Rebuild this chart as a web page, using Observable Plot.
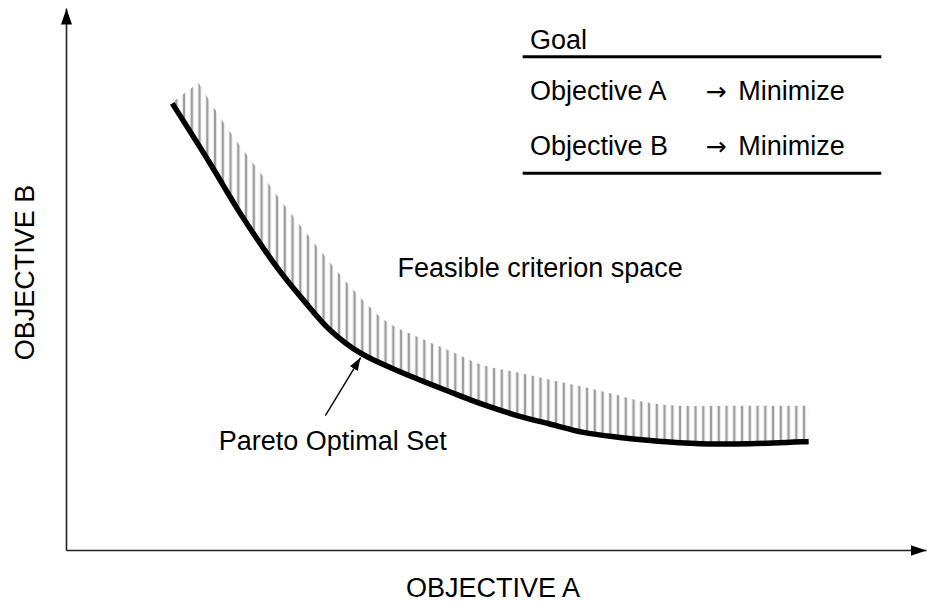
<!DOCTYPE html>
<html>
<head>
<meta charset="utf-8">
<script src="https://cdn.jsdelivr.net/npm/d3@7"></script>
<script src="https://cdn.jsdelivr.net/npm/@observablehq/plot@0.6"></script>
<style>
  html, body { margin: 0; padding: 0; background: #fff; }
</style>
</head>
<body>
<div id="chart"></div>
<script>
// Pareto front (Objective A vs Objective B), conceptual units 0–100
const paretoA = [12.3, 16.7, 20.2, 24.5, 27.6, 30.7, 34.2, 39.2, 44.7, 48.5, 52.4, 56.3, 60.1, 64.1, 67.9, 73.7, 79.5, 86.3];
const paretoB = [82.5, 71.4, 62.2, 52.2, 46.1, 40.6, 36.4, 32.7, 29.2, 26.9, 24.9, 23.3, 21.8, 20.9, 20.3, 19.7, 19.7, 20.1];

// Upper edge of the hatched feasible band
const bandA = [15.4, 18.7, 22.6, 26.0, 29.5, 33.4, 37.3, 41.2, 45.0, 48.5, 52.4, 56.3, 60.1, 64.1, 67.9, 71.4, 78.4, 86.5];
const bandB = [86.2, 78.0, 69.6, 62.4, 55.4, 48.0, 42.1, 39.1, 36.5, 34.1, 32.8, 31.4, 30.1, 28.6, 27.1, 26.6, 26.6, 26.6];

// Goal table
const tableHeader = ["Goal"];
const objectives = ["Objective A", "Objective B"];
const goalArrows = ["→", "→"];
const goals = ["Minimize", "Minimize"];

// Labels
const axisLabelA = ["OBJECTIVE A"];
const axisLabelB = ["OBJECTIVE B"];
const regionLabel = ["Feasible criterion space"];
const frontLabel = ["Pareto Optimal Set"];

// ---- layout (not data) ----
const rowY = [83.2, 72.9];
const font = "'Liberation Sans', Arial, Helvetica, sans-serif";
const fs = 27;

const idx = d3.range(paretoA.length);
const curve = idx.map(i => ({a: paretoA[i], b: paretoB[i]}));

const plot = Plot.plot({
  width: 927,
  height: 604,
  marginLeft: 66,
  marginRight: 1,
  marginTop: 8,
  marginBottom: 54,
  x: {domain: [0, 100], axis: null},
  y: {domain: [0, 100], axis: null},
  style: {fontFamily: font, background: "#fff", color: "#000", overflow: "visible"},
  marks: [
    // hatched feasible band
    Plot.area(idx, {
      x1: i => paretoA[i], y1: i => paretoB[i],
      x2: i => bandA[i], y2: i => bandB[i],
      fill: "url(#hatch)", curve: "catmull-rom"
    }),
    // Pareto front
    Plot.line(curve, {x: "a", y: "b", stroke: "#000", strokeWidth: 5.5, curve: "catmull-rom", strokeLinecap: "butt"}),
    // axes with arrowheads
    Plot.link([{x1: 0, y1: 0, x2: 100, y2: 0}, {x1: 0, y1: 0, x2: 0, y2: 100}], {
      x1: "x1", y1: "y1", x2: "x2", y2: "y2", stroke: "#222", strokeWidth: 1.6, ariaDescription: "axis-arrow"
    }),
    // pointer to Pareto front
    Plot.link([{x1: 30.1, y1: 24.9, x2: 34.2, y2: 35.6}], {
      x1: "x1", y1: "y1", x2: "x2", y2: "y2", stroke: "#000", strokeWidth: 1.4, ariaDescription: "pointer"
    }),
    // goal table rules
    Plot.ruleY([91.1, 69.6], {x1: 53.1, x2: 94.8, stroke: "#000", strokeWidth: 3}),
    Plot.text(tableHeader, {x: 53.9, y: 92.6, text: d => d, textAnchor: "start", lineAnchor: "bottom", fontSize: fs, fill: "#000"}),
    Plot.text(objectives, {x: 53.9, y: (d, i) => rowY[i], text: d => d, textAnchor: "start", lineAnchor: "bottom", fontSize: fs, fill: "#000"}),
    Plot.text(goalArrows, {x: 74.3, y: (d, i) => rowY[i], text: d => d, textAnchor: "start", lineAnchor: "bottom", fontSize: 25, fontFamily: "'DejaVu Sans', sans-serif", fill: "#000"}),
    Plot.text(goals, {x: 78.1, y: (d, i) => rowY[i], text: d => d, textAnchor: "start", lineAnchor: "bottom", fontSize: fs, fill: "#000"}),
    // annotations
    Plot.text(regionLabel, {x: 38.5, y: 50.4, text: d => d, textAnchor: "start", lineAnchor: "bottom", fontSize: fs, fill: "#000"}),
    Plot.text(frontLabel, {x: 17.7, y: 18.6, text: d => d, textAnchor: "start", lineAnchor: "bottom", fontSize: fs, fill: "#000"}),
    // axis titles
    Plot.text(axisLabelA, {x: 49.6, y: -8.6, text: d => d, textAnchor: "middle", lineAnchor: "bottom", fontSize: fs, fill: "#000"}),
    Plot.text(axisLabelB, {x: -3.8, y: 51.3, text: d => d, textAnchor: "middle", lineAnchor: "bottom", rotate: -90, fontSize: fs, fill: "#000"})
  ]
});

const svg = d3.select(plot);
const defs = svg.insert("defs", ":first-child");
const pat = defs.append("pattern")
  .attr("id", "hatch").attr("patternUnits", "userSpaceOnUse")
  .attr("width", 7.75).attr("height", 10);
pat.append("rect").attr("width", 7.75).attr("height", 10).attr("fill", "#fdfdfd");
pat.append("rect").attr("x", 4.3).attr("width", 3).attr("height", 10).attr("fill", "#cfcfcf");
pat.append("rect").attr("x", 5.1).attr("width", 1.4).attr("height", 10).attr("fill", "#8a8a8a");

defs.append("marker").attr("id", "axhead").attr("markerUnits", "userSpaceOnUse")
  .attr("viewBox", "0 -6 16 12").attr("refX", 16).attr("refY", 0)
  .attr("markerWidth", 16).attr("markerHeight", 12).attr("orient", "auto")
  .append("path").attr("d", "M0,-5.5L16,0L0,5.5Z").attr("fill", "#000");
defs.append("marker").attr("id", "ptrhead").attr("markerUnits", "userSpaceOnUse")
  .attr("viewBox", "0 -5 13 10").attr("refX", 13).attr("refY", 0)
  .attr("markerWidth", 13).attr("markerHeight", 10).attr("orient", "auto")
  .append("path").attr("d", "M0,-4.5L13,0L0,4.5Z").attr("fill", "#000");

// attach the arrowheads: find link groups by their description / stroke width
svg.selectAll("g").each(function() {
  const g = d3.select(this);
  const desc = g.attr("aria-description");
  const sw = g.attr("stroke-width");
  if (desc === "axis-arrow" || sw === "1.6") g.selectAll("path").attr("marker-end", "url(#axhead)");
  else if (desc === "pointer" || sw === "1.4") g.selectAll("path").attr("marker-end", "url(#ptrhead)");
});

document.getElementById("chart").appendChild(plot);
</script>
</body>
</html>
